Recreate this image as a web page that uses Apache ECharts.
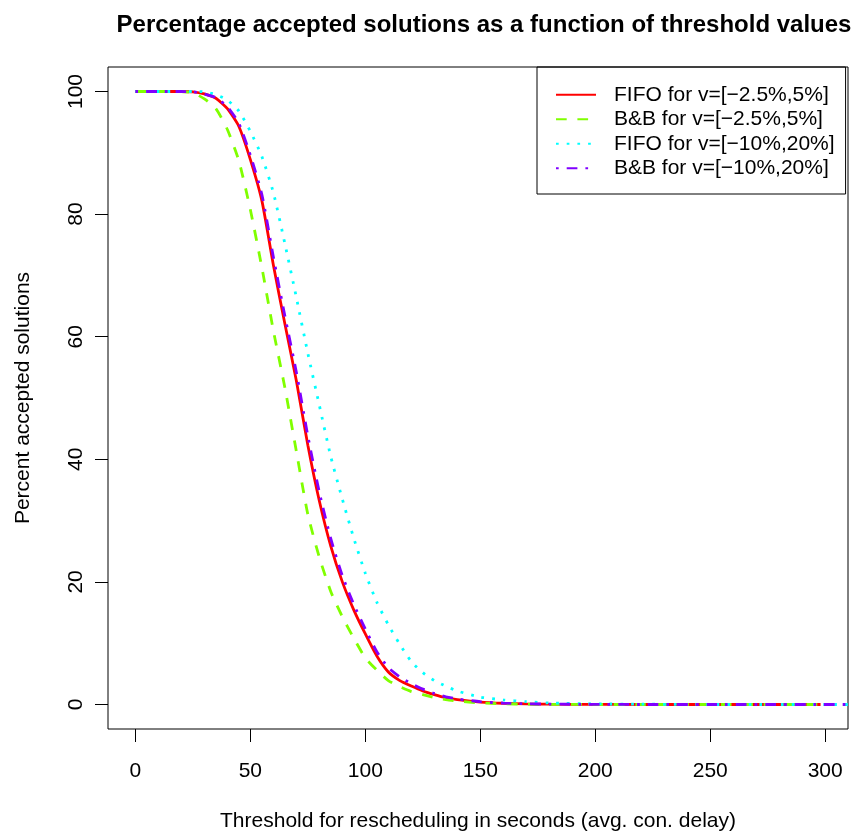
<!DOCTYPE html>
<html>
<head>
<meta charset="utf-8">
<script src="https://cdn.jsdelivr.net/npm/echarts@6/dist/echarts.min.js"></script>
<style>
  html, body { margin: 0; padding: 0; background: #fff; }
  #chart { width: 859px; height: 837px; }
</style>
</head>
<body>
<div id="chart"></div>
<script>
const thresholds = [
  0, 10, 20, 25, 30, 35, 40, 45, 50, 55, 60, 65, 70, 75, 80, 85, 90, 95, 100,
  105, 110, 115, 120, 125, 130, 135, 140, 150, 160, 170, 180, 200, 220, 250, 298,
];
// the wide-range runs go past the right edge of the plot
const thresholdsWide = thresholds.concat([320]);

const fifoNarrow = [
  100, 100, 100, 99.95, 99.6, 98.9, 97.2, 94.3, 88.9, 82.2, 71.7, 62.1, 52.8,
  42.3, 33.2, 25.8, 20, 15.4, 11.5, 7.9, 5.3, 3.9, 3.0, 2.2, 1.6, 1.1, 0.8,
  0.4, 0.2, 0.1, 0.05, 0.02, 0, 0, 0,
];
const bbNarrow = [
  100, 100, 100, 99.8, 98.8, 97.2, 93.8, 88.7, 80.7, 71.3, 61.0, 51.7, 41.3,
  31.0, 24.0, 18.4, 14.3, 10.8, 7.6, 5.6, 3.9, 2.9, 2.1, 1.6, 1.15, 0.8, 0.55,
  0.25, 0.12, 0.05, 0.02, 0, 0, 0, 0,
];
const fifoWide = [
  100, 100, 100, 100, 99.95, 99.5, 98.6, 96.8, 93.5, 89.4, 83.5, 75.2, 66.4,
  57.3, 48.8, 40.4, 33.5, 27.1, 21.4, 16.7, 13.0, 9.8, 7.0, 5.2, 3.9, 3.0, 2.2,
  1.2, 0.75, 0.45, 0.25, 0.1, 0.05, 0, 0, 0,
];
const bbWide = [
  100, 100, 100, 99.95, 99.6, 99.0, 97.5, 94.8, 89.6, 83.2, 73.0, 63.4, 54.2,
  43.8, 34.6, 27.0, 21.0, 16.3, 12.3, 8.6, 6.0, 4.5, 3.4, 2.5, 1.8, 1.25, 0.9,
  0.45, 0.22, 0.11, 0.06, 0.02, 0, 0, 0, 0,
];

const xTicks = [0, 50, 100, 150, 200, 250, 300];
const yTicks = [0, 20, 40, 60, 80, 100];

const seriesNames = [
  'FIFO for v=[\u22122.5%,5%]',
  'B&B for v=[\u22122.5%,5%]',
  'FIFO for v=[\u221210%,20%]',
  'B&B for v=[\u221210%,20%]',
];

const FONT = "'Liberation Sans', Arial, sans-serif";
const LW = 2.8;

const pairs = (xs, ys) => ys.map((y, i) => [xs[i], y]);

const makeLine = (name, xs, ys, color, dash) => ({
  name: name,
  type: 'line',
  data: pairs(xs, ys),
  symbol: 'none',
  smooth: 0.2,
  clip: true,
  lineStyle: {
    color: color,
    width: LW,
    type: dash,
    cap: 'butt',
  },
  // no point markers, also keeps the legend icon a bare line
  itemStyle: { color: color, opacity: 0 },
});

const chart = echarts.init(document.getElementById('chart'));

chart.setOption({
  animation: false,
  backgroundColor: '#fff',
  textStyle: { fontFamily: FONT, color: '#000' },
  title: {
    text: 'Percentage accepted solutions as a function of threshold values',
    left: 479,
    top: 8,
    textAlign: 'center',
    textStyle: {
      fontFamily: FONT,
      fontSize: 24,
      fontWeight: 'bold',
      color: '#000',
    },
  },
  legend: {
    orient: 'vertical',
    left: 537,
    top: 67,
    padding: [15.5, 11, 13.5, 18],
    itemGap: 0,
    itemWidth: 40,
    itemHeight: 14,
    borderColor: '#000',
    borderWidth: 1,
    borderRadius: 0,
    itemStyle: { opacity: 0 },
    textStyle: {
      fontFamily: FONT,
      fontSize: 21,
      color: '#000',
      lineHeight: 24.5,
      padding: [0, 0, 0, 13],
    },
    data: seriesNames,
  },
  grid: {
    left: 108,
    right: 11,
    top: 67,
    bottom: 108,
    show: true,
    borderColor: '#000',
    borderWidth: 1,
  },
  xAxis: {
    type: 'value',
    min: -11.92,
    max: 309.92,
    name: 'Threshold for rescheduling in seconds (avg. con. delay)',
    nameLocation: 'middle',
    nameGap: 82,
    nameTextStyle: { fontFamily: FONT, fontSize: 21, color: '#000' },
    axisLine: { show: false, onZero: false },
    splitLine: { show: false },
    axisTick: {
      show: true,
      inside: false,
      length: 13,
      customValues: xTicks,
      lineStyle: { color: '#000', width: 1 },
    },
    axisLabel: {
      customValues: xTicks,
      margin: 32,
      fontFamily: FONT,
      fontSize: 21,
      color: '#000',
    },
  },
  yAxis: {
    type: 'value',
    min: -4,
    max: 104,
    name: 'Percent accepted solutions',
    nameLocation: 'middle',
    nameGap: 74,
    nameRotate: 90,
    nameTextStyle: { fontFamily: FONT, fontSize: 21, color: '#000' },
    axisLine: { show: false, onZero: false },
    splitLine: { show: false },
    axisTick: {
      show: true,
      inside: false,
      length: 13,
      customValues: yTicks,
      lineStyle: { color: '#000', width: 1 },
    },
    axisLabel: {
      customValues: yTicks,
      rotate: 90,
      margin: 21,
      fontFamily: FONT,
      fontSize: 21,
      color: '#000',
    },
  },
  series: [
    makeLine(seriesNames[0], thresholds, fifoNarrow, '#FF0000', 'solid'),
    makeLine(seriesNames[1], thresholds, bbNarrow, '#80FF00', [10.7, 10.7]),
    makeLine(seriesNames[2], thresholdsWide, fifoWide, '#00FFFF', [2.7, 8]),
    makeLine(seriesNames[3], thresholdsWide, bbWide, '#8000FF', [2.7, 8, 10.7, 8]),
  ],
});
</script>
</body>
</html>
